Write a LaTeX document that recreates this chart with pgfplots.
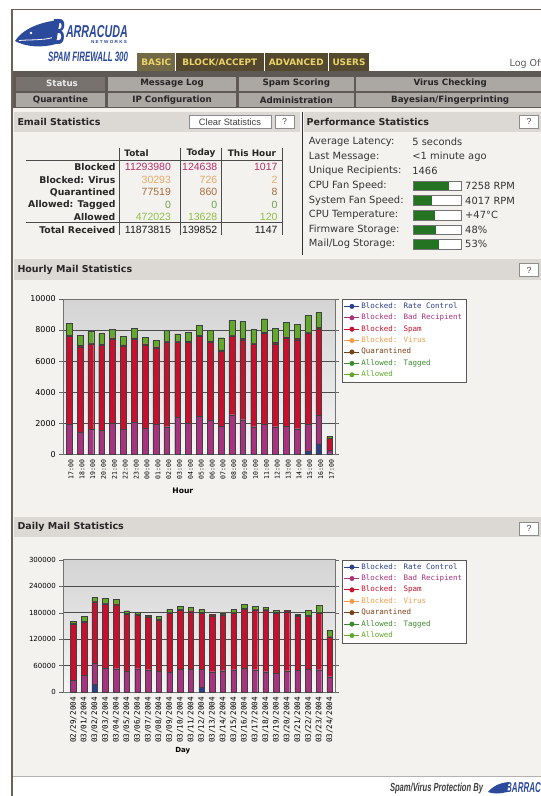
\documentclass[border=0pt]{standalone}
\usepackage{fontspec}
\setmainfont{DejaVu Sans}
\newfontfamily\arial{Liberation Sans}
\newfontfamily\mono{DejaVu Sans Mono}
\usepackage{graphicx}
\usepackage{pgfplots}
\pgfplotsset{compat=1.18}
\usepackage{pgfplotstable}
\newcommand\fs[1]{\fontsize{#1}{#1}\selectfont}

\definecolor{bordercol}{HTML}{6E6256}
\definecolor{contentbg}{HTML}{F3F2EF}
\definecolor{sectbar}{HTML}{DCD8D3}
\definecolor{tabA}{HTML}{736946}
\definecolor{tabB}{HTML}{54482F}
\definecolor{tabtext}{HTML}{EBD466}
\definecolor{navband}{HTML}{5F5953}
\definecolor{navbtn}{HTML}{ABA7A3}
\definecolor{navsel}{HTML}{77726D}
\definecolor{logo}{HTML}{2C4A9C}
\definecolor{cRate}{HTML}{2B3F8F}
\definecolor{cBad}{HTML}{A8327E}
\definecolor{cSpam}{HTML}{C8102E}
\definecolor{cVirus}{HTML}{F39C4A}
\definecolor{cQuar}{HTML}{7B3F14}
\definecolor{cTag}{HTML}{3B8A2B}
\definecolor{cAllow}{HTML}{62A82A}
\definecolor{tBlk}{HTML}{B0306A}
\definecolor{tVir}{HTML}{E8A868}
\definecolor{tQua}{HTML}{A86C3C}
\definecolor{tTag}{HTML}{70A050}
\definecolor{tAll}{HTML}{90C048}
\definecolor{perfgreen}{HTML}{237323}

\pgfplotstableread{
x rate bad spam virus quar tag allow
0 0 1950 5630 30 50 0 770
1 0 1430 5500 30 50 0 650
2 0 1590 5490 30 50 0 760
3 0 1545 5455 30 50 0 690
4 0 2000 5430 30 50 0 540
5 0 1630 5340 30 50 0 550
6 0 2040 5380 30 50 0 610
7 0 1670 5370 30 50 0 430
8 0 1930 4920 30 50 0 390
9 0 1780 5430 30 50 0 700
10 0 2380 4830 30 50 0 460
11 0 1975 5255 30 50 0 540
12 0 2450 5130 30 50 0 640
13 0 2190 5040 30 50 0 670
14 0 1820 4830 30 50 0 780
15 0 2550 5050 30 50 0 950
16 0 2230 5150 30 50 0 1120
17 0 1780 5300 30 50 0 890
18 0 1950 5820 30 50 0 880
19 0 1780 5340 30 50 0 910
20 0 1800 5690 30 50 0 930
21 0 1650 5730 30 50 0 910
22 210 1740 5840 30 50 0 1080
23 665 1825 5600 30 50 0 970
24 40 240 737 2 8 0 120
}\hourly

\pgfplotstableread{
x rate bad spam virus quar tag allow
0 0 27200 127000 1000 1200 0 3800
1 0 38500 120200 1000 1200 0 11400
2 17400 47600 138300 1000 1200 0 9100
3 0 53600 145100 1000 1200 0 11400
4 0 52900 145100 1000 1200 0 10600
5 0 47600 129200 1000 1200 0 5400
6 0 52900 121700 1000 1200 0 3800
7 0 50600 118700 1000 1200 0 2300
8 0 47600 115600 1000 1200 0 6900
9 0 45300 133000 1000 1200 0 7700
10 0 52100 133800 1000 1200 0 6900
11 0 51400 130700 1000 1200 0 8400
12 10600 40800 127700 1000 1200 0 6900
13 0 46100 127000 1000 1200 0 1500
14 0 48400 125400 1000 1200 0 3900
15 0 50600 127700 1000 1200 0 7700
16 0 53600 134600 1000 1200 0 8300
17 0 50600 134500 1000 1200 0 7700
18 0 46100 139000 1000 1200 0 5400
19 0 42300 136800 1000 1200 0 4600
20 0 48400 133700 1000 1200 0 300
21 0 49100 123200 1000 1200 0 1600
22 0 51400 120900 1000 1200 0 10600
23 0 50600 127700 1000 1200 0 16700
24 0 34800 89900 726 860 0 13628
}\daily

\pgfplotsset{
  leg/.style={legend image code/.code={\draw[line width=0.9pt,#1] (0pt,0pt)--(15pt,0pt); \fill[#1] (7.5pt,0pt) circle (2.3pt);}},
  seg/.style={fill=#1, draw=black!75, line width=0.3pt, leg=#1},
  chart/.style={
    scale only axis, ybar stacked, ymin=0, scaled y ticks=false,
    axis background/.style={top color=black!17, bottom color=black!4},
    ymajorgrids, major grid style={black!70, line width=0.6pt},
    axis line style={black!55, line width=0.6pt},
    xtick={0,...,24}, xtick style={draw=none},
    ytick style={black!60}, tick align=outside, major tick length=4pt,
    x tick label style={rotate=90, anchor=east, inner sep=1pt},
    legend cell align=left,
    legend style={draw=black!65, fill=white, font=\mono\fs{7.5}, inner xsep=2pt, inner ysep=2pt, row sep=1pt,
      nodes={inner sep=1.5pt, text height=5.6pt, text depth=1.8pt}},
  }
}

\begin{document}
\begin{tikzpicture}
\path[use as bounding box] (0pt,0pt) rectangle (541pt,-796pt);
\begin{scope}[x=1pt,y=-1pt]
\fill[white] (0,0) rectangle (541,796);
\fill[contentbg] (12,108) rectangle (541,776.5);
% header logo
\fill[logo] (15,41) .. controls (22,30) and (38,22) .. (60,20) .. controls (58,30) and (57,38) .. (56,44) .. controls (42,48) and (26,47) .. (15,41) -- cycle;
\fill[white] (31,33) circle (1.3);
\draw[white, line width=0.8pt] (19,40.5) .. controls (30,39.5) and (42,40.5) .. (53,37.5);
\node[text=logo, inner sep=0] at (58,32) {\resizebox{14pt}{25pt}{\arial\bfseries\itshape B}};
\node[text=logo, inner sep=0] at (97,31.5) {\resizebox{62pt}{12pt}{\arial\bfseries\itshape ARRACUDA}};
\node[text=logo, inner sep=0] at (109,41.8) {\resizebox{36pt}{3pt}{\arial\bfseries N E T W O R K S}};
\node[text=logo, inner sep=0] at (88,56.8) {\resizebox{80pt}{9.5pt}{\arial\bfseries\itshape SPAM FIREWALL 300}};
% tabs
\fill[tabA] (137.3,53.3) rectangle (175.2,70.8);
\fill[tabB] (176.1,53.3) rectangle (263.5,70.8);
\fill[tabB] (264.7,53.3) rectangle (327.8,70.8);
\fill[tabB] (328.8,53.3) rectangle (369.2,70.8);
\begin{scope}[every node/.style={text=tabtext, font=\bfseries\fs{8.9}}]
\node at (156.3,62.5) {BASIC};
\node at (219.8,62.5) {BLOCK/ACCEPT};
\node at (296.2,62.5) {ADVANCED};
\node at (349,62.5) {USERS};
\end{scope}
\node[text=black!65, font=\fs{9.5}, anchor=west, inner sep=0] at (509.5,63.5) {Log Off};
% nav
\fill[navband] (12,70.8) rectangle (541,108);
\fill[navsel] (15.5,76.5) rectangle (105.2,90.5);
\fill[navbtn] (108,76.5) rectangle (236.3,90.5);
\fill[navbtn] (239.1,76.5) rectangle (353.6,90.5);
\fill[navbtn] (356.4,76.5) rectangle (541,90.5);
\fill[navbtn] (15.5,92.8) rectangle (105.2,106.7);
\fill[navbtn] (108,92.8) rectangle (236.3,106.7);
\fill[navbtn] (239.1,92.8) rectangle (353.6,106.7);
\fill[navbtn] (356.4,92.8) rectangle (541,106.7);
\begin{scope}[every node/.style={font=\bfseries\fs{8.7}, text=black!85}]
\node[text=black!8] at (62,83.5) {Status};
\node at (172.1,83.5) {Message Log};
\node at (296.3,83.5) {Spam Scoring};
\node at (450.2,83.5) {Virus Checking};
\node at (60.4,99.8) {Quarantine};
\node at (172.1,99.8) {IP Configuration};
\node at (296.3,99.8) {Administration};
\node at (450.2,99.8) {Bayesian/Fingerprinting};
\end{scope}
% section bars
\fill[sectbar] (13.8,111.7) rectangle (300.2,131.7);
\fill[sectbar] (303.6,111.7) rectangle (541,131.7);
\fill[sectbar] (13.8,259.3) rectangle (541,280);
\fill[sectbar] (13.8,516.7) rectangle (541,537.3);
\begin{scope}[every node/.style={font=\bfseries\fs{9.5}, text=black!85, anchor=west, inner sep=0}]
\node at (17.3,121.7) {Email Statistics};
\node at (306.5,121.7) {Performance Statistics};
\node at (17.3,269.8) {Hourly Mail Statistics};
\node at (17.3,527.3) {Daily Mail Statistics};
\end{scope}
\draw[black!45, fill=white] (189.1,115) rectangle (270.9,128.3);
\node[font=\arial\fs{9.3}, text=black!75] at (230,121.7) {Clear Statistics};
\foreach \xa/\ya in {275/115, 519.6/115, 519.6/263.3, 519.6/521.7} {
  \draw[black!45, fill=white] (\xa,\ya) rectangle ++(19,13.3);
  \node[font=\arial\fs{8.8}, text=black!70] at (\xa+9.5,\ya+6.65) {?};
}
\draw[black!80, line width=0.6pt] (301.9,111.7) -- (301.9,255);
% email table
\draw[black!70, line width=0.5pt] (25.9,160.7) -- (282.3,160.7);
\draw[black!70, line width=0.5pt] (25.9,222.6) -- (282.3,222.6);
\foreach \xv in {119,180.1,220.8,282.3} \draw[black!70, line width=0.5pt] (\xv,148) -- (\xv,235);
\begin{scope}[every node/.style={font=\bfseries\fs{8.9}, text=black!85, anchor=west, inner sep=0}]
\node at (124.2,153.5) {Total};
\node at (186.3,153.5) {Today};
\node at (227.7,153.5) {This Hour};
\end{scope}
\begin{scope}[every node/.style={font=\bfseries\fs{9.3}, text=black!85, anchor=east, inner sep=0}]
\node at (115.6,167.2) {Blocked};
\node at (115.6,179.7) {Blocked: Virus};
\node at (115.6,192.2) {Quarantined};
\node at (115.6,204.7) {Allowed: Tagged};
\node at (115.6,217.2) {Allowed};
\node at (115.6,229.7) {Total Received};
\end{scope}
\begin{scope}[every node/.style={font=\arial\fs{10.5}, anchor=east, inner sep=0}]
\node[text=tBlk] at (171.1,167.2) {11293980};
\node[text=tBlk] at (217.4,167.2) {124638};
\node[text=tBlk] at (277.7,167.2) {1017};
\node[text=tVir] at (171.1,179.7) {30293};
\node[text=tVir] at (217.4,179.7) {726};
\node[text=tVir] at (277.7,179.7) {2};
\node[text=tQua] at (171.1,192.2) {77519};
\node[text=tQua] at (217.4,192.2) {860};
\node[text=tQua] at (277.7,192.2) {8};
\node[text=tTag] at (171.1,204.7) {0};
\node[text=tTag] at (217.4,204.7) {0};
\node[text=tTag] at (277.7,204.7) {0};
\node[text=tAll] at (171.1,217.2) {472023};
\node[text=tAll] at (217.4,217.2) {13628};
\node[text=tAll] at (277.7,217.2) {120};
\node[text=black!90] at (171.1,229.7) {11873815};
\node[text=black!90] at (217.4,229.7) {139852};
\node[text=black!90] at (277.7,229.7) {1147};
\end{scope}
% performance
\begin{scope}[every node/.style={font=\fs{9.9}, text=black!80, anchor=west, inner sep=0}]
\node at (308.7,142) {Average Latency:};
\node at (308.7,156.6) {Last Message:};
\node at (308.7,171.2) {Unique Recipients:};
\node at (308.7,185.8) {CPU Fan Speed:};
\node at (308.7,200.4) {System Fan Speed:};
\node at (308.7,215) {CPU Temperature:};
\node at (308.7,229.6) {Firmware Storage:};
\node at (308.7,244.2) {Mail/Log Storage:};
\node at (412.2,142) {5 seconds};
\node at (412.2,156.6) {<1 minute ago};
\node at (412.2,171.2) {1466};
\node at (465,185.8) {7258 RPM};
\node at (465,200.4) {4017 RPM};
\node at (465,215) {+47°C};
\node at (465,229.6) {48\%};
\node at (465,244.2) {53\%};
\end{scope}
\foreach \yy/\ff in {185.8/35.5, 200.4/18.9, 215/22.4, 229.6/23.2, 244.2/25.8} {
  \fill[white] (413,\yy-4.8) rectangle (461.3,\yy+4.8);
  \fill[perfgreen] (413,\yy-4.8) rectangle (413+\ff,\yy+4.8);
  \draw[black!55, line width=0.5pt] (413,\yy-4.8) rectangle (461.3,\yy+4.8);
}
% footer
\fill[white] (12,777) rectangle (541,796);
\draw[black!30, line width=1.4pt] (12,776.6) -- (541,776.6);
\node[text=black!75, inner sep=0] at (436.5,788.5) {\resizebox{93pt}{8.5pt}{\arial\bfseries\itshape Spam/Virus Protection By}};
\fill[logo] (488,792) .. controls (493,786) and (499,783) .. (509,782) .. controls (508,786) .. (507,792) .. controls (500,794) and (493,794) .. (488,792) -- cycle;
\node[text=logo, inner sep=0, anchor=west] at (506,787.5) {\resizebox{52pt}{10pt}{\arial\bfseries\itshape BARRACUDA}};
% borders
\draw[bordercol, line width=1.6pt] (12,796) -- (12,9.3) -- (541,9.3);
\end{scope}

% ---------- Hourly chart
\begin{axis}[chart,
  at={(63.3pt,-454.3pt)}, anchor=south west, width=271.7pt, height=155.3pt,
  bar width=5.8pt, xmin=-0.53, xmax=24.5, ymax=10000,
  ytick={0,2000,4000,6000,8000,10000}, yticklabels={0,2000,4000,6000,8000,10000},
  xticklabels={17:00,18:00,19:00,20:00,21:00,22:00,23:00,00:00,01:00,02:00,03:00,04:00,05:00,06:00,07:00,08:00,09:00,10:00,11:00,12:00,13:00,14:00,15:00,16:00,17:00},
  x tick label style={font=\mono\fs{6.5}, yshift=-2pt},
  yticklabel style={font=\fs{8}},
  xlabel={Hour}, xlabel style={at={(axis description cs:0.44,-0.234)}, anchor=center, font=\bfseries\fs{7.6}},
  legend style={at={(1.025,1)}, anchor=north west}]
\addplot[seg=cRate] table[x=x,y=rate]{\hourly};
\addplot[seg=cBad] table[x=x,y=bad]{\hourly};
\addplot[seg=cSpam] table[x=x,y=spam]{\hourly};
\addplot[seg=cVirus] table[x=x,y=virus]{\hourly};
\addplot[seg=cQuar] table[x=x,y=quar]{\hourly};
\addplot[seg=cTag] table[x=x,y=tag]{\hourly};
\addplot[seg=cAllow] table[x=x,y=allow]{\hourly};
\addlegendentry{\textcolor{cRate}{Blocked: Rate Control}}
\addlegendentry{\textcolor{cBad}{Blocked: Bad Recipient}}
\addlegendentry{\textcolor{cSpam}{Blocked: Spam}}
\addlegendentry{\textcolor{cVirus}{Blocked: Virus}}
\addlegendentry{\textcolor{cQuar}{Quarantined}}
\addlegendentry{\textcolor{cTag}{Allowed: Tagged}}
\addlegendentry{\textcolor{cAllow}{Allowed}}
\end{axis}

% ---------- Daily chart
\begin{axis}[chart,
  at={(63.3pt,-692pt)}, anchor=south west, width=271.7pt, height=132.3pt,
  bar width=5.5pt, xmin=-0.94, xmax=24.5, ymax=300000,
  ytick={0,60000,120000,180000,240000,300000}, yticklabels={0,60000,120000,180000,240000,300000},
  xticklabels={02/29/2004,03/01/2004,03/02/2004,03/03/2004,03/04/2004,03/05/2004,03/06/2004,03/07/2004,03/08/2004,03/09/2004,03/10/2004,03/11/2004,03/12/2004,03/13/2004,03/14/2004,03/15/2004,03/16/2004,03/17/2004,03/18/2004,03/19/2004,03/20/2004,03/21/2004,03/22/2004,03/23/2004,03/24/2004},
  x tick label style={font=\mono\fs{7.6}},
  yticklabel style={font=\fs{7}},
  xlabel={Day}, xlabel style={at={(axis description cs:0.44,-0.447)}, anchor=center, font=\bfseries\fs{7}},
  legend style={at={(1.025,1)}, anchor=north west}]
\addplot[seg=cRate] table[x=x,y=rate]{\daily};
\addplot[seg=cBad] table[x=x,y=bad]{\daily};
\addplot[seg=cSpam] table[x=x,y=spam]{\daily};
\addplot[seg=cVirus] table[x=x,y=virus]{\daily};
\addplot[seg=cQuar] table[x=x,y=quar]{\daily};
\addplot[seg=cTag] table[x=x,y=tag]{\daily};
\addplot[seg=cAllow] table[x=x,y=allow]{\daily};
\addlegendentry{\textcolor{cRate}{Blocked: Rate Control}}
\addlegendentry{\textcolor{cBad}{Blocked: Bad Recipient}}
\addlegendentry{\textcolor{cSpam}{Blocked: Spam}}
\addlegendentry{\textcolor{cVirus}{Blocked: Virus}}
\addlegendentry{\textcolor{cQuar}{Quarantined}}
\addlegendentry{\textcolor{cTag}{Allowed: Tagged}}
\addlegendentry{\textcolor{cAllow}{Allowed}}
\end{axis}
\end{tikzpicture}
\end{document}
